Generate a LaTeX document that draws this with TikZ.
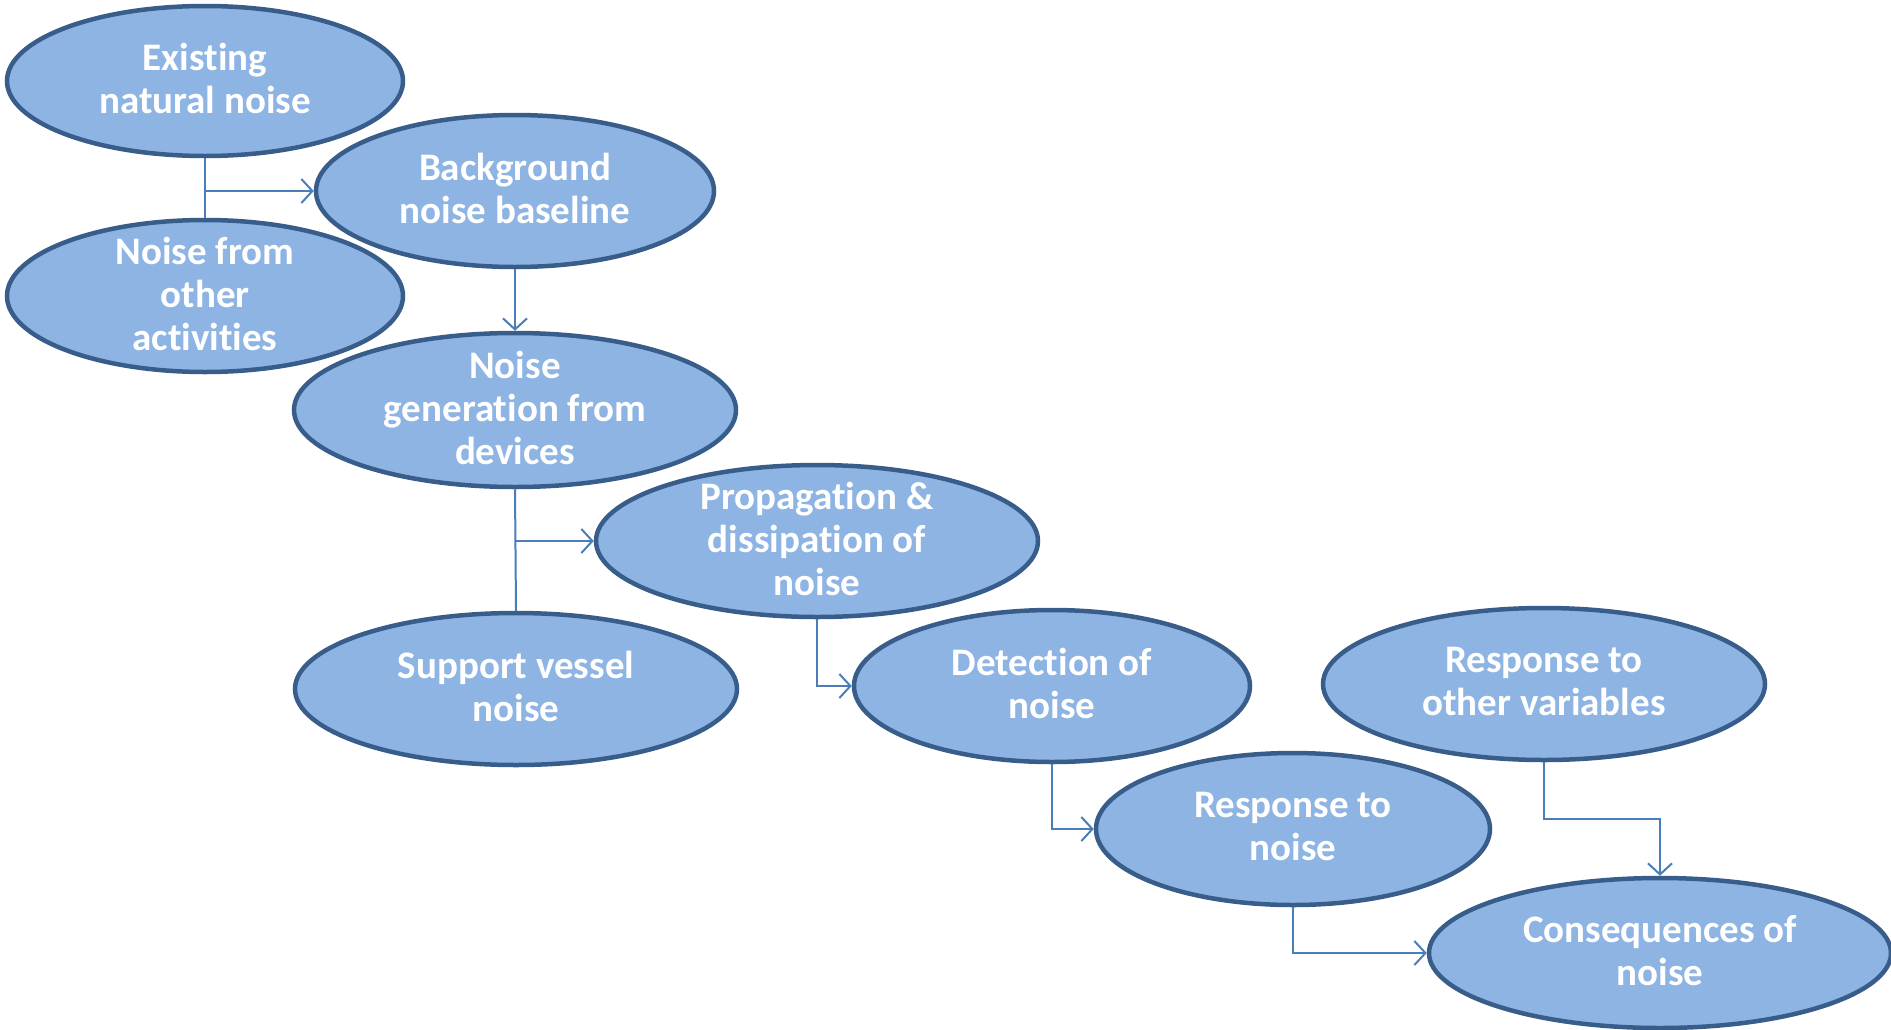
\documentclass[tikz,border=0pt]{standalone}
\usepackage{fontspec}
\setmainfont{Carlito}[Ligatures=NoCommon]
\usetikzlibrary{shapes.geometric,arrows.meta}
\definecolor{ellfill}{HTML}{8EB4E3}
\definecolor{ellline}{HTML}{385D8A}
\definecolor{connline}{HTML}{4A7EBB}
\tikzset{
  ell/.style={ellipse, draw=ellline, fill=ellfill, line width=4.5pt, inner sep=0pt},
  txt/.style={text=white, align=center, font=\fontsize{39pt}{43pt}\selectfont\bfseries, inner sep=0pt, yshift=2.5pt},
  conn/.style={draw=connline, line width=2pt},
  arr/.style={conn, -{Straight Barb[length=11pt,width=24pt,line width=2pt]}}
}
\begin{document}
\begin{tikzpicture}[x=1pt,y=-1pt]
\useasboundingbox (0,0) rectangle (1891,1029);
% ellipses
\node[ell, minimum width=396pt, minimum height=150pt] (e1) at (205,81) {};
\node[ell, minimum width=398pt, minimum height=152pt] (e2) at (515,191) {};
\node[ell, minimum width=396pt, minimum height=152pt] (e3) at (205,296) {};
\node[ell, minimum width=442pt, minimum height=154pt] (e4) at (515,410) {};
\node[ell, minimum width=442pt, minimum height=152pt] (e5) at (817,541) {};
\node[ell, minimum width=442pt, minimum height=152pt] (e6) at (516,689) {};
\node[ell, minimum width=396pt, minimum height=152pt] (e7) at (1052,686) {};
\node[ell, minimum width=442pt, minimum height=152pt] (e8) at (1544,684) {};
\node[ell, minimum width=394pt, minimum height=152pt] (e9) at (1293,829) {};
\node[ell, minimum width=462pt, minimum height=150pt] (e10) at (1660,953) {};
% texts
\node[txt] (t1) at (e1) {Existing\\natural noise};
\node[txt] (t2) at (e2) {Background\\noise baseline};
\node[txt] (t3) at (e3) {Noise from\\other\\activities};
\node[txt] (t4) at (e4) {Noise\\generation from\\devices};
\node[txt] (t5) at (e5) {Propagation \&\\dissipation of\\noise};
\node[txt] (t6) at (e6) {Support vessel\\noise};
\node[txt] (t7) at (e7) {Detection of\\noise};
\node[txt] (t8) at (e8) {Response to\\other variables};
\node[txt] (t9) at (e9) {Response to\\noise};
\node[txt] (t10) at (e10) {Consequences of\\noise};
% connectors
\draw[conn] (e1.south) -- (e3.north);
\draw[arr] (e1.south |- e2.west) -- (e2.west);
\draw[arr] (e2.south) -- (e4.north);
\draw[conn] (e4.south) -- (e6.north);
\draw[arr] (e4.south |- e5.west) -- (e5.west);
\draw[arr] (e5.south) |- (e7.west);
\draw[arr] (e7.south) |- (e9.west);
\draw[arr] (e9.south) |- (e10.west);
\coordinate (k) at (1544,819);
\draw[arr] (e8.south) -- (k) -| (e10.north);
\end{tikzpicture}
\end{document}
